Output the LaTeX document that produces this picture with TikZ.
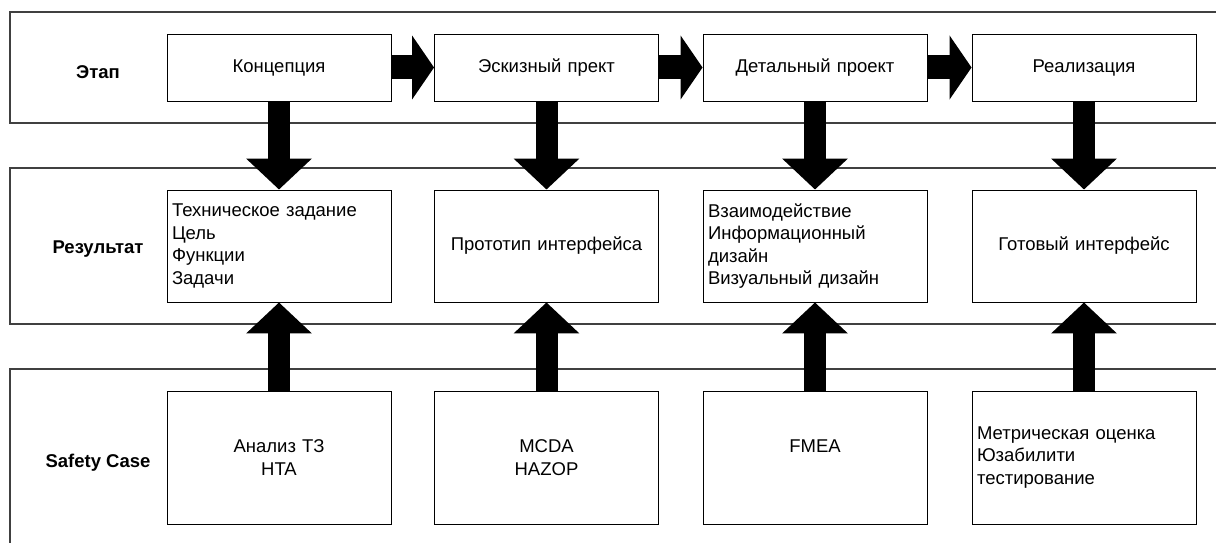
\documentclass[tikz,border=0pt]{standalone}
\usepackage{fontspec}
\setmainfont{Liberation Sans}
\usetikzlibrary{arrows.meta}

\begin{document}
\begin{tikzpicture}[x=1pt,y=-1pt,
  every node/.style={font=\fontsize{18.5}{22.5}\selectfont},
  lane/.style={draw=black!75,line width=1.2pt},
  lanelabel/.style={font=\fontsize{18.5}{22.5}\selectfont\bfseries},
  box/.style={draw,line width=0.9pt,minimum width=224pt,inner xsep=5pt,
    text width=214pt,align=center},
  stagebox/.style={box,minimum height=67pt},
  resbox/.style={box,minimum height=112pt},
  safebox/.style={box,minimum height=133pt},
  harrow/.style={line width=24pt,-{Triangle[length=22pt,width=63pt]}},
  varrow/.style={line width=22pt,-{Triangle[length=31pt,width=64pt]}}]
\def\cA{279}
\def\cB{546.5}
\def\cC{815}
\def\cD{1084}
\useasboundingbox (0,0) rectangle (1216,543);
\clip (0,0) rectangle (1216,543);

% lanes
\draw[lane] (10,12) rectangle (1240,123);
\draw[lane] (10,168) rectangle (1240,324);
\draw[lane] (10,369) rectangle (1240,570);

\node[lanelabel] (lEtap) at (98,72) {Этап};
\node[lanelabel] (lRes) at (98,249) {Результат};
\node[lanelabel] (lSafe) at (98,463) {Safety Case};

% stages
\node[stagebox] (kon) at (\cA,67.5) {Концепция};
\node[stagebox] (esk) at (\cB,67.5) {Эскизный прект};
\node[stagebox] (det) at (\cC,67.5) {Детальный проект};
\node[stagebox] (rea) at (\cD,67.5) {Реализация};

% results
\node[resbox,align=left] (rKon) at (\cA,246) {Техническое задание\\Цель\\Функции\\Задачи};
\node[resbox] (rEsk) at (\cB,246) {Прототип интерфейса};
\node[resbox,align=left] (rDet) at (\cC,246) {Взаимодействие\\Информационный\\дизайн\\Визуальный дизайн};
\node[resbox] (rRea) at (\cD,246) {Готовый интерфейс};

% safety case
\node[safebox] (sKon) at (\cA,457.5) {Анализ ТЗ\\HTA};
\node[safebox] (sEsk) at (\cB,457.5) {MCDA\\HAZOP};
\node[safebox] (sDet) at (\cC,457.5) {FMEA\\\phantom{H}};
\node[safebox,align=left] (sRea) at (\cD,457.5) {Метрическая оценка\\Юзабилити\\тестирование};

% arrows
\draw[harrow] (kon.east) -- (esk.west);
\draw[harrow] (esk.east) -- (det.west);
\draw[harrow] (det.east) -- (rea.west);
\draw[varrow] (kon.south) -- (rKon.north);
\draw[varrow] (esk.south) -- (rEsk.north);
\draw[varrow] (det.south) -- (rDet.north);
\draw[varrow] (rea.south) -- (rRea.north);
\draw[varrow] (sKon.north) -- (rKon.south);
\draw[varrow] (sEsk.north) -- (rEsk.south);
\draw[varrow] (sDet.north) -- (rDet.south);
\draw[varrow] (sRea.north) -- (rRea.south);
\end{tikzpicture}
\end{document}
